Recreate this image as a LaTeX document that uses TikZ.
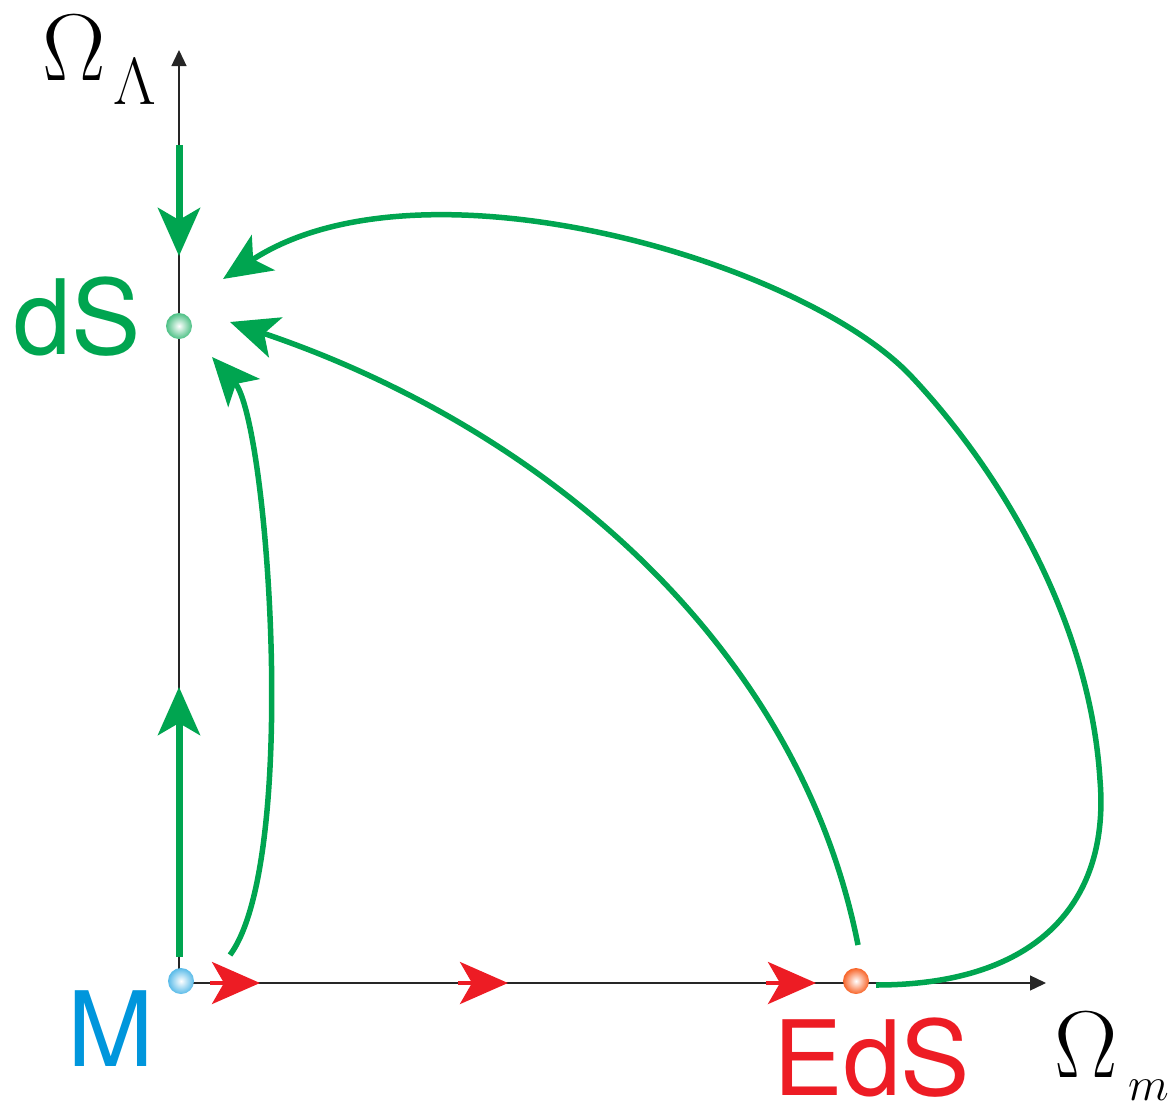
\documentclass[tikz,border=0pt]{standalone}
\usepackage{fix-cm}
\usepackage{amsmath}
\usepackage{fontspec}
\setsansfont{TeX Gyre Heros}
\usepackage{tikz}
\usetikzlibrary{arrows.meta}
\definecolor{flowgreen}{RGB}{0,165,80}
\definecolor{flowred}{RGB}{237,28,36}
\definecolor{mblue}{RGB}{0,150,220}

\begin{document}
\begin{tikzpicture}[x=1pt,y=-1pt,
    axis/.style={black!85, line width=1.3pt, -{Triangle[length=16pt,width=15pt]}},
    flow/.style={flowgreen, line width=5.5pt, -{Stealth[length=48pt,width=42pt,inset=12pt]}},
    redflow/.style={flowred, line width=4pt, -{Stealth[length=48pt,width=42pt,inset=12pt]}},
    fixpt/.style={circle, minimum size=26pt, inner sep=0pt},
    axlbl/.style={inner sep=0pt, anchor=base west, font=\fontsize{95}{100}\selectfont},
    lbl/.style={font=\sffamily\fontsize{104}{110}\selectfont, inner sep=0pt}]
    \useasboundingbox (0,0) rectangle (1176,1106);
    % axes
    \coordinate (o) at (179,983);
    \coordinate (xend) at (1046,983);
    \coordinate (yend) at (179,50);
    \draw[axis] (o) -- (xend);
    \draw[axis] (o) -- (yend);
    \node[axlbl] (omL) at (42,80) {$\Omega\mkern1.5mu\raisebox{-24pt}{$\scriptstyle\Lambda$}$};
    \node[axlbl] (omm) at (1054,1077) {$\Omega\mkern2mu\raisebox{-23pt}{$\scriptscriptstyle m$}$};
    % fixed points
    \node[fixpt, inner color=white, outer color=mblue!65] (M) at (181,981) {};
    \node[fixpt, inner color=white, outer color=flowgreen!70] (dS) at (179,326) {};
    \node[fixpt, inner color=white, outer color=flowred!45!orange!90] (EdS) at (856,981) {};
    \node[lbl, text=mblue] (labM) at (111,1029) {M};
    \node[lbl, text=flowgreen] (labdS) at (77,317) {dS};
    \node[lbl, text=flowred] (labEdS) at (872,1058) {EdS};
    % red flow along the matter axis
    \foreach \xb/\xt in {210/260,458/508,766/816}
        \draw[redflow] (\xb,983) -- (\xt,983);
    % green flows into dS
    \coordinate (topin) at (179,145);
    \coordinate (topt) at (179,256);
    \draw[flow, line width=7pt] (topin) -- (topt);
    \coordinate (botin) at (179,957);
    \coordinate (bott) at (179,687);
    \draw[flow, line width=7pt] (botin) -- (bott);
    \coordinate (a1) at (230,955);
    \coordinate (t1) at (212,357);
    \draw[flow] (a1) .. controls (300,860) and (268,420) .. (t1);
    \coordinate (a2) at (858,945);
    \coordinate (t2) at (230,322);
    \draw[flow] (a2) .. controls (800,650) and (550,430) .. (t2);
    \coordinate (a3) at (876,985);
    \coordinate (t3) at (223,279);
    \draw[flow] (a3) .. controls (1040,985) and (1110,900) .. (1100,780)
        .. controls (1090,620) and (1000,470) .. (910,375)
        .. controls (800,260) and (420,150) .. (t3);
\end{tikzpicture}
\end{document}
